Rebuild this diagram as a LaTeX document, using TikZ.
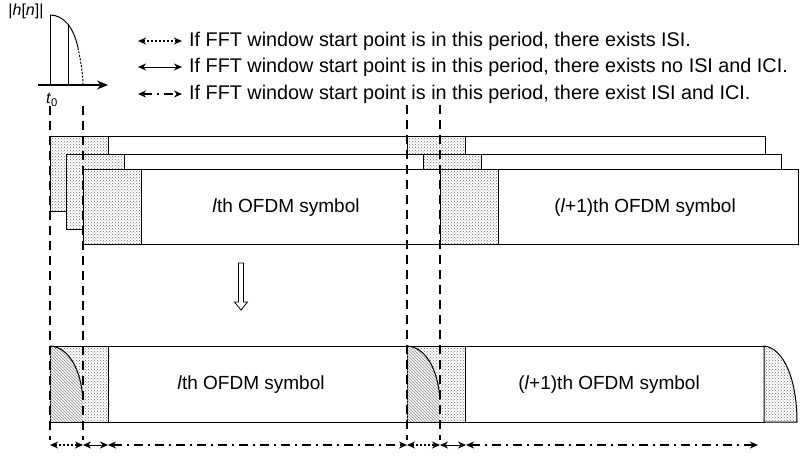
\documentclass[tikz,border=0pt]{standalone}
\usepackage{fontspec}
\setmainfont{Liberation Sans}
\usepackage{tikz}
\usetikzlibrary{positioning, arrows.meta, patterns}
\definecolor{cpGray}{HTML}{707070}
\definecolor{tailGray}{HTML}{9A9A9A}
\tikzset{
  symbox/.style={draw=black, line width=1pt, fill=white},
  cpbox/.style={draw=black, line width=1pt, preaction={fill=white},
    pattern=crosshatch dots, pattern color=cpGray},
  hatchbox/.style={pattern=north west lines, pattern color=tailGray},
  winline/.style={line width=2.4pt, dash pattern=on 9pt off 6pt},
  tip/.style={{Stealth[length=8pt,width=7pt]}-{Stealth[length=8pt,width=7pt]}},
  isiline/.style={tip, line width=1.2pt, dash pattern=on 2.5pt off 1.5pt},
  okline/.style={tip, line width=1pt},
  iciline/.style={tip, line width=1.6pt, dash pattern=on 9pt off 5pt on 2pt off 5pt},
  lbl/.style={font=\fontsize{19}{22}\selectfont, inner sep=0pt},
}

\begin{document}
\begin{tikzpicture}[x=1pt, y=-1pt]
  \useasboundingbox (0,0) rectangle (807,458);
  % impulse response
  \draw[line width=1pt] (50,85) -- (50,15);
  \draw[line width=1pt] (68,85) -- (68,24);
  \draw[line width=1pt] (50,15) .. controls (64,15) and (74,28) .. (78,48);
  \draw[line width=1pt, dash pattern=on 2pt off 1.5pt] (78,48) .. controls (81,62) and (83,75) .. (83,85);
  \draw[line width=1.2pt, -{Stealth[length=11pt,width=9pt]}] (38,85) -- (108,85);
  \node[lbl, font=\fontsize{16}{18}\selectfont] (hlab) at (26,11) {|\textit{h}[\textit{n}]|};
  \node[lbl, font=\fontsize{16}{18}\selectfont] (tzero) at (52,100) {\textit{t}\textsubscript{0}};

  % legend
  \foreach \k/\y/\sty/\txt in {1/41/isiline/{there exists ISI.},
      2/67/okline/{there exists no ISI and ICI.},
      3/94/iciline/{there exist ISI and ICI.}} {
    \coordinate (k\k a) at (138,\y);
    \coordinate (k\k b) at (182,\y);
    \draw[\sty] (k\k a) -- (k\k b);
    \node[lbl, font=\fontsize{19.8}{22}\selectfont, anchor=west] (k\k) at (189,\y)
      {If FFT window start point is in this period, \txt};
  }

  % transmitted symbols, three paths
  \foreach \dx/\ty in {50/136, 66/154, 83/169} {
    \draw[symbox] (\dx,\ty) rectangle ++(715,75);
    \draw[cpbox] (\dx,\ty) rectangle ++(58,75);
    \draw[cpbox] ({\dx+357},\ty) rectangle ++(58,75);
  }
  \node[lbl] (symA) at (286,208) {\textit{l}th OFDM symbol};
  \node[lbl] (symB) at (645,208) {(\textit{l}+1)th OFDM symbol};

  % hollow down arrow
  \draw[line width=0.8pt, fill=white] (238.5,263) -- (243.5,263) -- (243.5,302) -- (247.5,302)
    -- (241,310) -- (234.5,302) -- (238.5,302) -- cycle;

  % received symbols
  \draw[symbox] (50,346) rectangle (764,422);
  \foreach \ox in {0,357} {
    \begin{scope}[xshift=\ox]
      \draw[cpbox] (50,346) rectangle (108,422);
      \fill[hatchbox] (50,346) .. controls (68,347) and (81,368) .. (83,400) -- (83,422) -- (50,422) -- cycle;
      \draw[line width=1pt] (50,346) .. controls (68,347) and (81,368) .. (83,400);
    \end{scope}
  }
  \draw[cpbox] (764,346) .. controls (784,348) and (797,380) .. (797,422) -- (764,422) -- cycle;
  \node[lbl] (rcvA) at (251,385) {\textit{l}th OFDM symbol};
  \node[lbl] (rcvB) at (609,385) {(\textit{l}+1)th OFDM symbol};

  % FFT window boundaries
  \foreach \wx/\wy in {50/106, 83/106, 407/105, 440/105}
    \draw[winline] (\wx,\wy) -- (\wx,440);

  % start point periods
  \foreach \n/\px in {0/50, 1/83, 2/108, 3/407, 4/440, 5/466, 6/758}
    \coordinate (a\n) at (\px,445);
  \draw[isiline] (a0) -- (a1);
  \draw[okline] (a1) -- (a2);
  \draw[iciline] (a2) -- (a3);
  \draw[isiline] (a3) -- (a4);
  \draw[okline] (a4) -- (a5);
  \draw[iciline] (a5) -- (a6);
\end{tikzpicture}
\end{document}
